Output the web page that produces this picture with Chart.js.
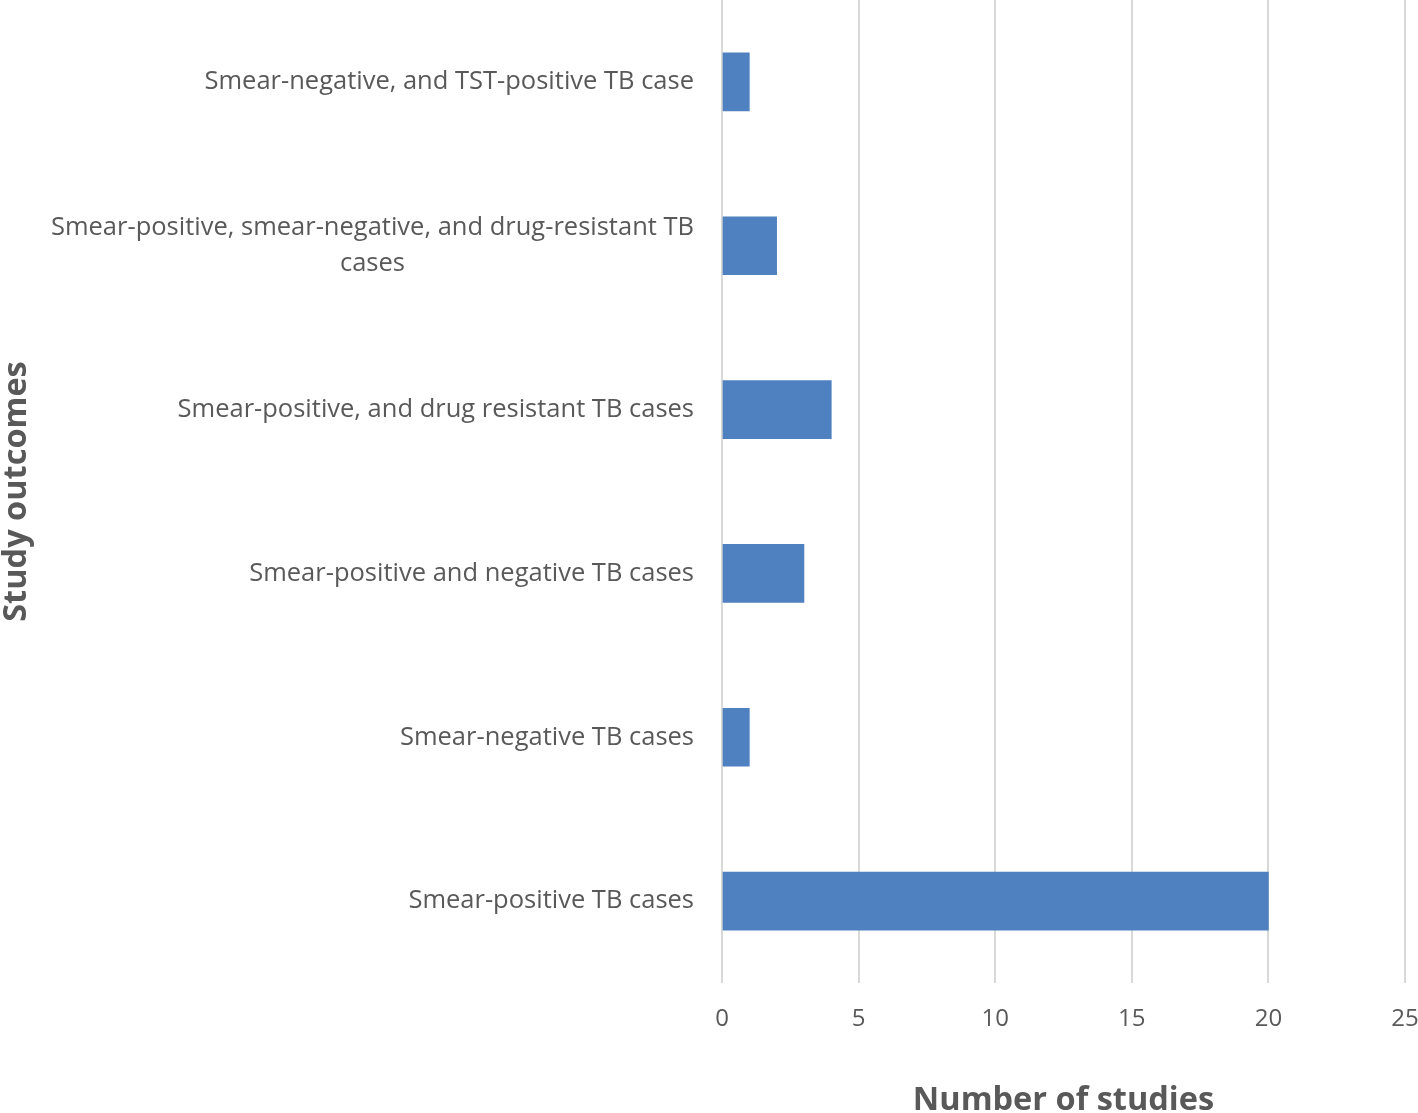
<!DOCTYPE html>
<html>
<head>
<meta charset="utf-8">
<script src="https://cdn.jsdelivr.net/npm/chart.js@4.4.1/dist/chart.umd.min.js"></script>
<style>
  html, body { margin: 0; padding: 0; background: #fff; }
  #wrap { width: 1418px; height: 1113px; }
</style>
</head>
<body>
<div id="wrap"><canvas id="studyChart"></canvas></div>
<script>
// categories, top to bottom
const categories = [
  "Smear-negative, and TST-positive TB case",
  ["Smear-positive, smear-negative, and drug-resistant TB", "cases"],
  "Smear-positive, and drug resistant TB cases",
  "Smear-positive and negative TB cases",
  "Smear-negative TB cases",
  "Smear-positive TB cases"
];
const studyCounts = [1, 2, 4, 3, 1, 20];
const xTicks = [0, 5, 10, 15, 20, 25];

const textColor = "#595959";
const labelFont = "25.5px 'Open Sans', sans-serif";

// draws the category labels next to the y scale, lines centred within a block
const categoryLabels = {
  id: "categoryLabels",
  afterDraw(chart) {
    const scale = chart.scales.y;
    const ctx = chart.ctx;
    const right = chart.chartArea.left - 28;
    ctx.save();
    ctx.font = labelFont;
    ctx.fillStyle = textColor;
    ctx.textBaseline = "middle";
    ctx.textAlign = "center";
    categories.forEach(function (label, i) {
      const lines = Array.isArray(label) ? label : [label];
      const y = scale.getPixelForTick(i);
      const widths = lines.map(function (l) { return ctx.measureText(l).width; });
      const maxW = Math.max.apply(null, widths);
      const lineH = 36;
      const top = y - (lines.length - 1) * lineH / 2;
      lines.forEach(function (l, j) {
        ctx.fillText(l, right - maxW / 2, top + j * lineH);
      });
    });
    ctx.restore();
  }
};

document.addEventListener("DOMContentLoaded", function () {
  const ctx = document.getElementById("studyChart").getContext("2d");

  new Chart(ctx, {
    type: "bar",
    data: {
      labels: categories,
      datasets: [
        {
          label: "Number of studies",
          data: studyCounts,
          backgroundColor: "#4f80bf",
          borderWidth: 0,
          barThickness: 58
        }
      ]
    },
    options: {
      indexAxis: "y",
      responsive: true,
      maintainAspectRatio: false,
      animation: false,
      layout: { padding: { top: 0, right: 0, bottom: 0, left: 0 } },
      plugins: {
        legend: { display: false },
        tooltip: { enabled: false }
      },
      scales: {
        x: {
          min: 0,
          max: 25,
          afterBuildTicks: function (scale) {
            scale.ticks = xTicks.map(function (v) { return { value: v }; });
          },
          afterFit: function (scale) {
            scale.height = 130;
            scale.paddingLeft = 0;
            scale.paddingRight = 13;
          },
          grid: { color: "#d9d9d9", lineWidth: 2, drawTicks: false },
          border: { display: false },
          ticks: {
            color: textColor,
            padding: 22,
            maxRotation: 0,
            font: { family: "'Open Sans', sans-serif", size: 24 }
          },
          title: {
            display: true,
            text: "Number of studies",
            color: textColor,
            padding: { top: 0, bottom: -4 },
            font: { family: "'Open Sans', sans-serif", size: 32.5, weight: "bold", lineHeight: 1 }
          }
        },
        y: {
          afterFit: function (scale) { scale.width = 722; },
          grid: { display: false },
          border: { display: false },
          ticks: { display: false },
          title: {
            display: true,
            text: "Study outcomes",
            color: textColor,
            padding: { top: 0, bottom: 0 },
            font: { family: "'Open Sans', sans-serif", size: 32.5, weight: "bold", lineHeight: 1 }
          }
        }
      }
    },
    plugins: [categoryLabels]
  });
});
</script>
</body>
</html>
